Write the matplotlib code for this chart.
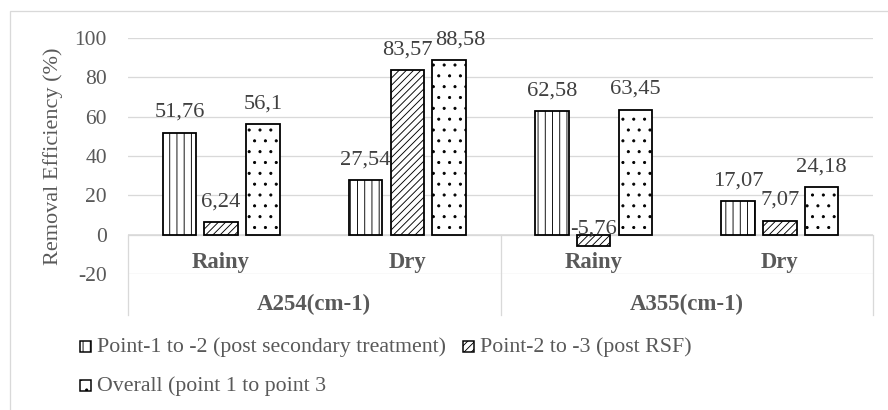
import matplotlib
matplotlib.use("Agg")
import matplotlib.pyplot as plt
from matplotlib.patches import Rectangle
import numpy as np

# ---------------- data ----------------
seasons = ["Rainy", "Dry", "Rainy", "Dry"]
parameters = ["A254(cm-1)", "A355(cm-1)"]
series_names = ["Point-1 to -2 (post secondary treatment)",
                "Point-2 to -3 (post RSF)",
                "Overall (point 1 to point 3"]
point1_to_2 = [51.76, 27.54, 62.58, 17.07]
point2_to_3 = [6.24, 83.57, -5.76, 7.07]
overall = [56.1, 88.58, 63.45, 24.18]
value_labels = [["51,76", "27,54", "62,58", "17,07"],
                ["6,24", "83,57", "-5,76", "7,07"],
                ["56,1", "88,58", "63,45", "24,18"]]
yticks = [-20, 0, 20, 40, 60, 80, 100]
ylabel = "Removal Efficiency (%)"

# ---------------- styling ----------------
W, H, DPI = 888, 410, 130
def pt(px):
    return px * 72.0 / DPI

plt.rcParams["font.family"] = ["Liberation Serif", "DejaVu Serif"]
plt.rcParams["hatch.linewidth"] = pt(0.9)
plt.rcParams["hatch.color"] = "black"

TXT = "#595959"
LBL = "#404040"
GRID = "#d9d9d9"
hatches = ["|||", "//////", ".."]

fig = plt.figure(figsize=(W / DPI, H / DPI), dpi=DPI)
# axes placement in pixels: x 128..873, y(100)=37.7, y(-20)=274.1
ax_l, ax_r, ax_t, ax_b = 128, 873, 37.7, 274.1
ax = fig.add_axes([ax_l / W, 1 - ax_b / H, (ax_r - ax_l) / W, (ax_b - ax_t) / H])

x = np.arange(len(seasons))
bw = 0.18
off = 0.224
all_series = [point1_to_2, point2_to_3, overall]
for i, (vals, h) in enumerate(zip(all_series, hatches)):
    ax.bar(x + (i - 1) * off, vals, width=bw, facecolor="white", edgecolor="black",
           hatch=h, linewidth=pt(1.8), zorder=3)

# data labels
nudges = {(2, 1): 11}  # (series, category): x nudge in px
for i, vals in enumerate(all_series):
    for j, v in enumerate(vals):
        xo = x[j] + (i - 1) * off
        if v >= 0:
            yv, dy = v, 16
        else:
            yv, dy = 0, 1.5
        ax.annotate(value_labels[i][j], (xo, yv),
                    xytext=(pt(nudges.get((i, j), 0)), pt(dy)),
                    textcoords="offset points", ha="center", va="baseline",
                    fontsize=pt(22.5), color=LBL, zorder=4)

ax.set_xlim(-0.5, 3.5)
ax.set_ylim(-20, 100)
ax.set_yticks(yticks)
ax.set_yticklabels([str(t) for t in yticks], fontsize=pt(21.5), color=TXT)
ax.tick_params(axis="y", length=0, pad=pt(21))
ax.set_xticks([])
for s in ax.spines.values():
    s.set_visible(False)
ax.grid(axis="y", color=GRID, linewidth=pt(1.3), zorder=0)
ax.axhline(0, color=GRID, linewidth=pt(1.6), zorder=2)
ax.set_ylabel(ylabel, fontsize=pt(22.3), color=TXT, labelpad=pt(12))

# multi-level category table below the zero line
px2d = 120.0 / (ax_b - ax_t)
def ypx(p):
    return -20 - (p - ax_b) * px2d

y_bottom = ypx(315)
for xv in [-0.5, 1.5, 3.5]:
    ax.plot([xv, xv], [0, y_bottom], color=GRID, linewidth=pt(1.3), clip_on=False, zorder=1)
for j, s in enumerate(seasons):
    ax.text(x[j], ypx(268), s, ha="center", va="baseline", fontsize=pt(22.7),
            fontweight="bold", color=TXT)
for k, p in enumerate(parameters):
    ax.text(0.5 + 2 * k, ypx(310), p, ha="center", va="baseline", fontsize=pt(22.9),
            fontweight="bold", color=TXT)

# outer frame
fig.add_artist(Rectangle((10 / W, -0.05), 1.2, 1 - 11 / H + 0.05, transform=fig.transFigure,
                         facecolor="none", edgecolor=GRID, linewidth=pt(1.3), clip_on=False))

# legend (manual)
def fx(p):
    return p / W
def fy(p):
    return 1 - p / H

legend_items = [(0, 80, 352, 97), (1, 463, 352, 480), (2, 80, 390.5, 97)]
for si, mx, base, tx in legend_items:
    fig.add_artist(Rectangle((fx(mx), fy(base)), 11 / W, 11 / H, transform=fig.transFigure,
                             facecolor="white", edgecolor="black", hatch=hatches[si],
                             linewidth=pt(1.5)))
    fig.text(fx(tx), fy(base), series_names[si], ha="left", va="baseline",
             fontsize=pt(21.9), color=TXT)

fig.savefig("out.png", dpi=DPI)
